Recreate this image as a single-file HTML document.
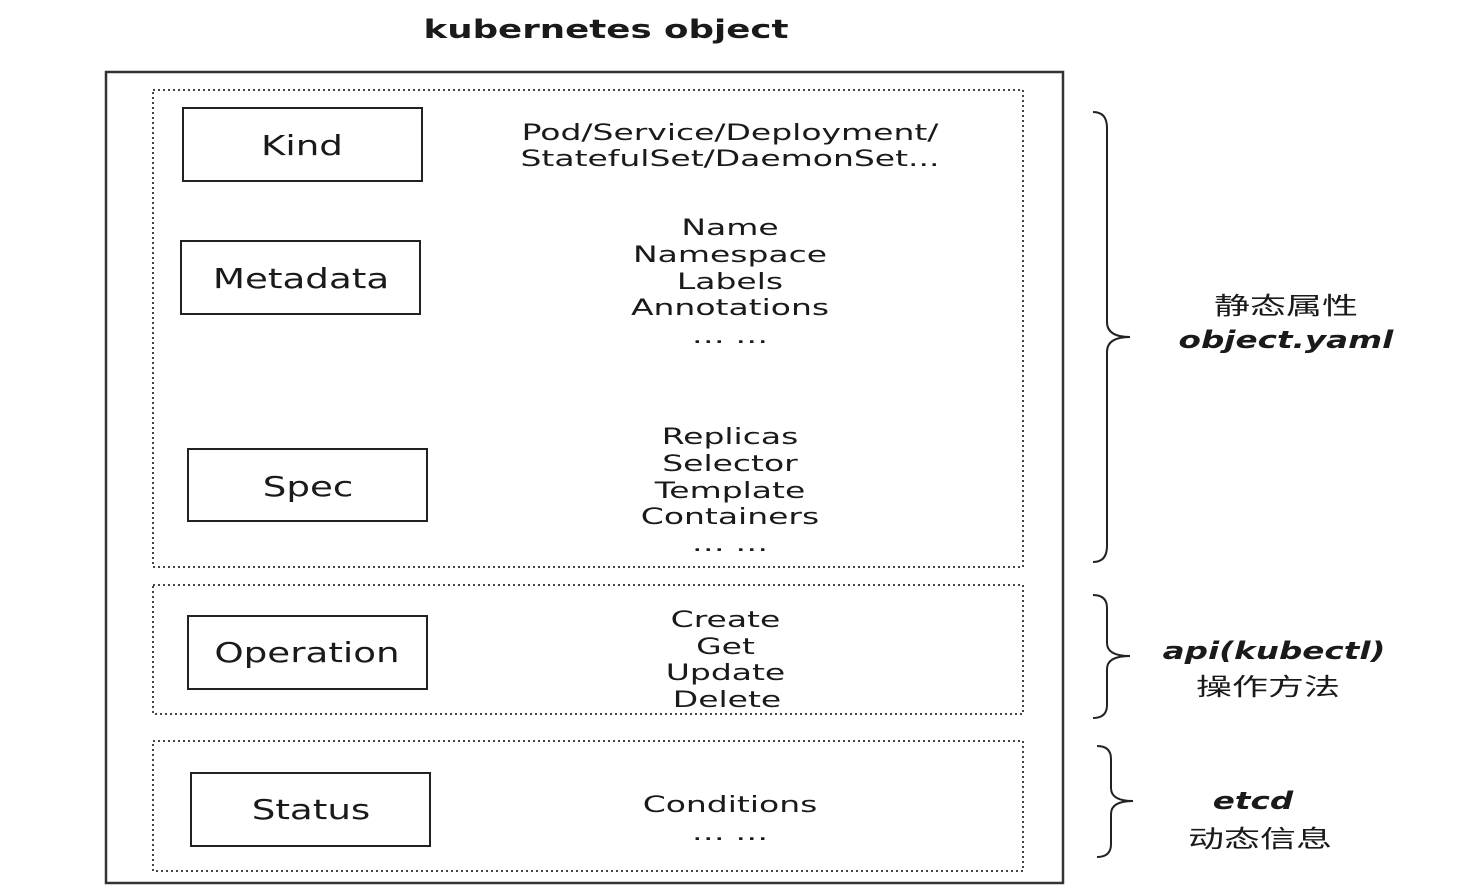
<!DOCTYPE html>
<html><head><meta charset="utf-8"><style>
html,body{margin:0;padding:0;background:#fff;}
svg{display:block;}
text{font-family:"DejaVu Sans","Noto Sans CJK SC",sans-serif;fill:#1a1a1a;}
</style></head><body>
<svg width="1466" height="890" viewBox="0 0 1466 890" xmlns="http://www.w3.org/2000/svg">
<g transform="matrix(1.37,0,0,1,-224.2,0)">
<text x="606" y="38" font-size="26" font-weight="bold" text-anchor="middle">kubernetes object</text>
</g>
<rect x="106" y="72" width="957" height="811" fill="none" stroke="#333" stroke-width="2.5"/>
<g fill="none" stroke="#444" stroke-width="2" stroke-dasharray="2,3">
<rect x="153" y="90" width="870" height="477"/>
<rect x="153" y="585" width="870" height="129"/>
<rect x="153" y="741" width="870" height="130"/>
</g>
<g fill="none" stroke="#222" stroke-width="2">
<rect x="183" y="108" width="239" height="73"/>
<rect x="181" y="241" width="239" height="73"/>
<rect x="188" y="449" width="239" height="72"/>
<rect x="188" y="616" width="239" height="73"/>
<rect x="191" y="773" width="239" height="73"/>
</g>
<g font-size="28" text-anchor="middle">
<text x="302" y="155" transform="matrix(1.33,0,0,1,-99.7,0)">Kind</text>
<text x="301" y="288" transform="matrix(1.33,0,0,1,-99.3,0)">Metadata</text>
<text x="308" y="496" transform="matrix(1.33,0,0,1,-101.6,0)">Spec</text>
<text x="307" y="662" transform="matrix(1.33,0,0,1,-101.3,0)">Operation</text>
<text x="311" y="819" transform="matrix(1.33,0,0,1,-102.6,0)">Status</text>
</g>
<g font-size="22" text-anchor="middle" transform="matrix(1.5,0,0,1,-365,0)">
<text x="730" y="140">Pod/Service/Deployment/</text>
<text x="730" y="166">StatefulSet/DaemonSet...</text>
<text x="730" y="235">Name</text>
<text x="730" y="262">Namespace</text>
<text x="730" y="289">Labels</text>
<text x="730" y="315">Annotations</text>
<text x="730" y="343">… …</text>
<text x="730" y="444">Replicas</text>
<text x="730" y="471">Selector</text>
<text x="730" y="498">Template</text>
<text x="730" y="524">Containers</text>
<text x="730" y="551">… …</text>
<text x="727" y="627">Create</text>
<text x="727" y="654">Get</text>
<text x="727" y="680">Update</text>
<text x="728" y="707">Delete</text>
<text x="730" y="812">Conditions</text>
<text x="730" y="840">… …</text>
</g>
<g fill="none" stroke="#222" stroke-width="2">
<path d="M1093,112 Q1107,112 1107,128 L1107,322 Q1107,337 1130,337 Q1107,337 1107,352 L1107,546 Q1107,562 1093,562"/>
<path d="M1093,595 Q1107,595 1107,608 L1107,643 Q1107,656 1130,656 Q1107,656 1107,669 L1107,705 Q1107,718 1093,718"/>
<path d="M1097,746 Q1111,746 1111,759 L1111,788 Q1111,801 1133,801 Q1111,801 1111,814 L1111,844 Q1111,857 1097,857"/>
</g>
<g font-size="24" text-anchor="middle">
<text x="1286" y="314" transform="matrix(1.5,0,0,1,-643,0)">静态属性</text>
<text x="1286" y="348" font-weight="bold" font-style="italic" transform="matrix(1.36,0,0,1,-463,0)">object.yaml</text>
<text x="1274" y="659" font-weight="bold" font-style="italic" transform="matrix(1.36,0,0,1,-458.6,0)">api(kubectl)</text>
<text x="1268" y="695" transform="matrix(1.5,0,0,1,-634,0)">操作方法</text>
<text x="1253" y="809" font-weight="bold" font-style="italic" transform="matrix(1.36,0,0,1,-451.1,0)">etcd</text>
<text x="1260" y="847" transform="matrix(1.5,0,0,1,-630,0)">动态信息</text>
</g>
</svg>
</body></html>
